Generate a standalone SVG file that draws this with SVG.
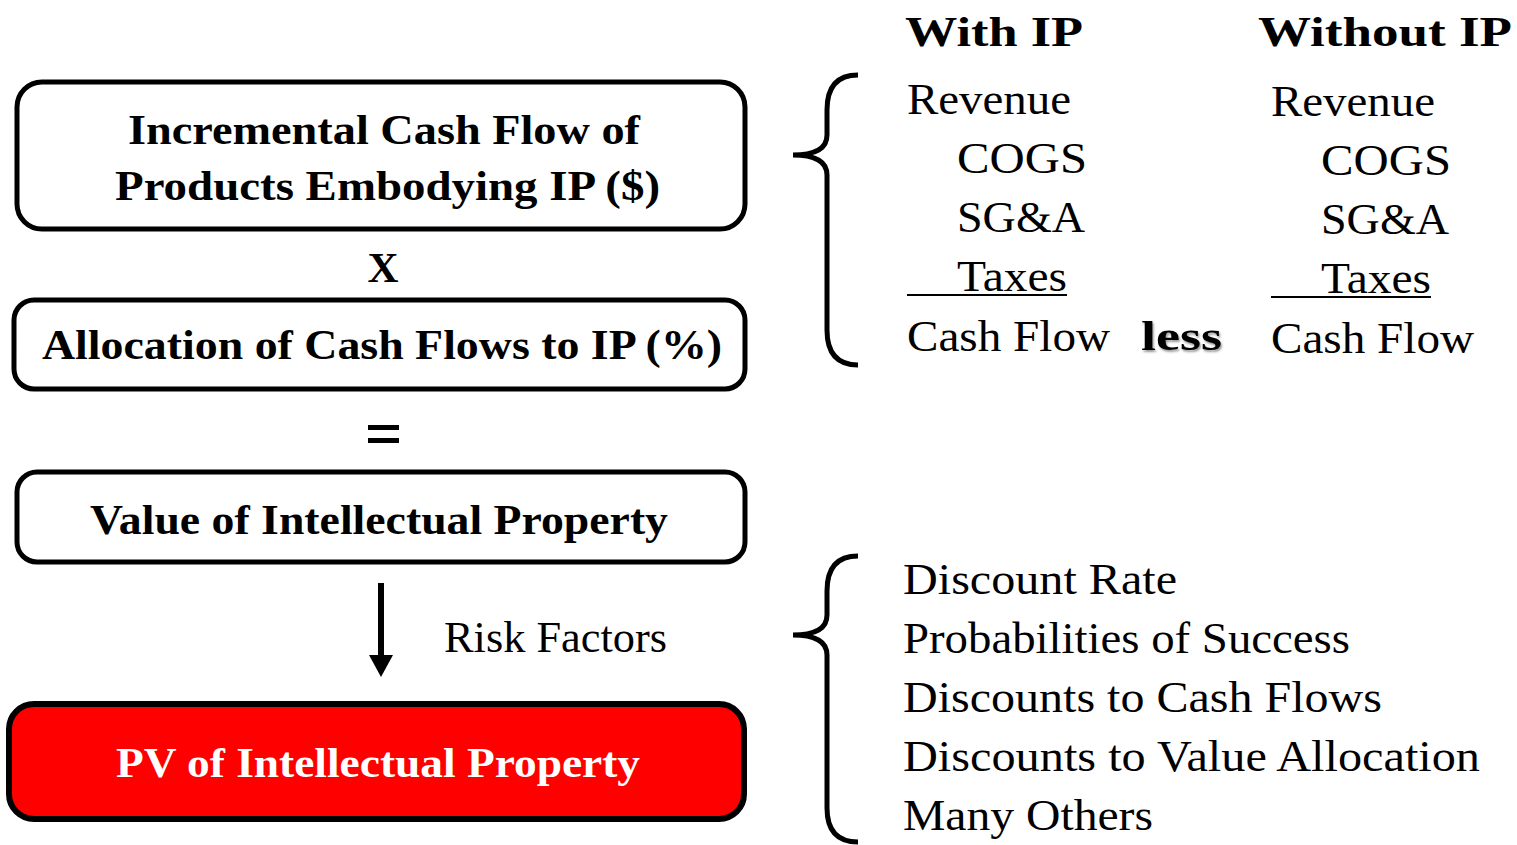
<svg xmlns="http://www.w3.org/2000/svg" width="1517" height="845" viewBox="0 0 1517 845">
<style>
.box{fill:#fff;stroke:#000;stroke-width:5}
.red{fill:#ff0000;stroke:#000;stroke-width:6}
.b{font-family:"Liberation Serif",serif;font-weight:bold;font-size:43px;fill:#000}
.r{font-family:"Liberation Serif",serif;font-size:45px;fill:#000}
.w{fill:#fff}
.brace{fill:none;stroke:#000;stroke-width:5}
.ul{stroke:#000;stroke-width:2}
</style>
<g id="node-incremental">
<rect class="box" x="17" y="82" width="728" height="147" rx="25"/>
<text class="b" x="128" y="144" textLength="512" lengthAdjust="spacingAndGlyphs">Incremental Cash Flow of</text>
<text class="b" x="115" y="200" textLength="545" lengthAdjust="spacingAndGlyphs">Products Embodying IP ($)</text>
</g>
<g id="op-times"><text class="b" x="383" y="282" text-anchor="middle">X</text></g>
<g id="node-allocation">
<rect class="box" x="14" y="300" width="731" height="89" rx="20"/>
<text class="b" x="42" y="359" textLength="680" lengthAdjust="spacingAndGlyphs">Allocation of Cash Flows to IP (%)</text>
</g>
<g id="op-equals">
<rect x="368" y="425" width="31" height="5" fill="#000"/>
<rect x="368" y="438" width="31" height="5" fill="#000"/>
</g>
<g id="node-value">
<rect class="box" x="17" y="472" width="728" height="90" rx="20"/>
<text class="b" x="90" y="534" textLength="578" lengthAdjust="spacingAndGlyphs">Value of Intellectual Property</text>
</g>
<g id="connectors">
<line x1="381" y1="583" x2="381" y2="658" stroke="#000" stroke-width="6"/>
<polygon points="369,655 393,655 381,677" fill="#000"/>
</g>
<text class="r" x="444" y="652" textLength="223" lengthAdjust="spacingAndGlyphs">Risk Factors</text>
<g id="node-pv">
<rect class="red" x="9" y="704" width="735" height="115" rx="25"/>
<text class="b w" x="116" y="777" textLength="524" lengthAdjust="spacingAndGlyphs">PV of Intellectual Property</text>
</g>
<g id="top-table">
<text class="b" x="905" y="46" font-size="52" textLength="178" lengthAdjust="spacingAndGlyphs">With IP</text>
<text class="b" x="1258" y="46" font-size="52" textLength="254" lengthAdjust="spacingAndGlyphs">Without IP</text>
<path class="brace" d="M858,75 Q827,75 827,110 L827,135 Q827,155 793,155 Q827,155 827,175 L827,330 Q827,365 858,365"/>
<text class="r" x="907" y="114" textLength="164" lengthAdjust="spacingAndGlyphs">Revenue</text>
<text class="r" x="957" y="173" textLength="130" lengthAdjust="spacingAndGlyphs">COGS</text>
<text class="r" x="957" y="232" textLength="128" lengthAdjust="spacingAndGlyphs">SG&amp;A</text>
<text class="r" x="957" y="291" textLength="110" lengthAdjust="spacingAndGlyphs">Taxes</text>
<line class="ul" x1="907" y1="295" x2="1067" y2="295"/>
<text class="r" x="907" y="351" textLength="203" lengthAdjust="spacingAndGlyphs">Cash Flow</text>
<text class="b" x="1141" y="350" font-size="45" textLength="81" lengthAdjust="spacingAndGlyphs" style="text-shadow:1px 2px 2px #999">less</text>
<text class="r" x="1271" y="116" textLength="164" lengthAdjust="spacingAndGlyphs">Revenue</text>
<text class="r" x="1321" y="175" textLength="130" lengthAdjust="spacingAndGlyphs">COGS</text>
<text class="r" x="1321" y="234" textLength="128" lengthAdjust="spacingAndGlyphs">SG&amp;A</text>
<text class="r" x="1321" y="293" textLength="110" lengthAdjust="spacingAndGlyphs">Taxes</text>
<line class="ul" x1="1271" y1="297" x2="1431" y2="297"/>
<text class="r" x="1271" y="353" textLength="203" lengthAdjust="spacingAndGlyphs">Cash Flow</text>
</g>
<g id="risk-list">
<path class="brace" d="M858,556 Q827,556 827,591 L827,615 Q827,635 793,635 Q827,635 827,655 L827,808 Q827,842 858,842"/>
<text class="r" x="903" y="594" textLength="274" lengthAdjust="spacingAndGlyphs">Discount Rate</text>
<text class="r" x="903" y="653" textLength="447" lengthAdjust="spacingAndGlyphs">Probabilities of Success</text>
<text class="r" x="903" y="712" textLength="479" lengthAdjust="spacingAndGlyphs">Discounts to Cash Flows</text>
<text class="r" x="903" y="771" textLength="577" lengthAdjust="spacingAndGlyphs">Discounts to Value Allocation</text>
<text class="r" x="903" y="830" textLength="250" lengthAdjust="spacingAndGlyphs">Many Others</text>
</g>
</svg>
